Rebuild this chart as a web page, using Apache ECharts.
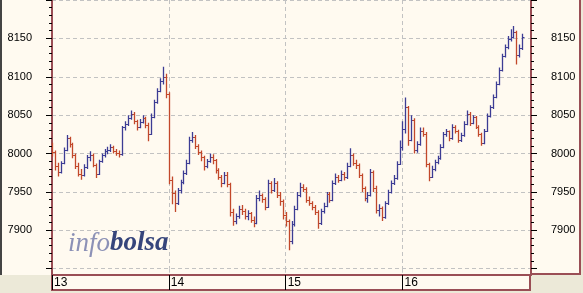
<!DOCTYPE html>
<html><head><meta charset="utf-8">
<script src="https://cdn.jsdelivr.net/npm/echarts@6/dist/echarts.min.js"></script>
<style>html,body{margin:0;padding:0;background:#ece9d8}#c{width:583px;height:293px}</style>
</head><body><div id="c"></div>
<script>
// ---- data: [open, high, low, close] per intraday bar ----
const dayLabels = ['13', '14', '15', '16'];
const barsPerDay = 40;
const slotCount = 165;
const yMin = 7850, yMax = 8200, yStep = 50;

const day13 = [
 [8008,8014,7996,8002],[8002,8004,7978,7984],[7984,7988,7970,7976],[7976,7990,7974,7988],
 [7988,8008,7986,8005],[8005,8024,8003,8020],[8020,8022,8008,8012],[8012,8014,7994,7998],
 [7998,8000,7980,7984],[7984,7988,7970,7974],[7974,7980,7966,7972],[7972,7986,7970,7982],
 [7982,7998,7980,7995],[7995,8003,7990,7998],[7998,8000,7982,7985],[7985,7987,7968,7974],
 [7974,7992,7972,7990],[7990,8000,7988,7998],[7998,8006,7995,8003],[8003,8009,7999,8005],
 [8005,8012,8002,8008],[8008,8010,8000,8003],[8003,8006,7997,8001],[8001,8004,7995,7999],
 [7999,8036,7997,8034],[8034,8042,8030,8038],[8038,8050,8036,8046],[8046,8056,8044,8052],
 [8052,8054,8038,8042],[8042,8044,8030,8035],[8035,8045,8033,8041],[8041,8050,8039,8046],
 [8046,8048,8033,8037],[8037,8040,8016,8026],[8026,8052,8024,8048],[8048,8070,8046,8067],
 [8067,8085,8065,8082],[8082,8098,8080,8095],[8095,8113,8090,8100],[8100,8104,8072,8078]
];
const day14 = [
 [8078,8080,7960,7966],[7966,7970,7934,7948],[7948,7952,7924,7936],[7936,7955,7933,7952],
 [7952,7966,7948,7963],[7963,7978,7960,7975],[7975,7992,7972,7988],[7988,8022,7986,8018],
 [8018,8028,8014,8022],[8022,8024,8006,8010],[8010,8012,7998,8002],[8002,8004,7990,7995],
 [7995,7997,7978,7984],[7984,7993,7981,7990],[7990,8000,7988,7996],[7996,7999,7986,7991],
 [7991,7993,7974,7978],[7978,7981,7966,7970],[7970,7972,7956,7962],[7962,7976,7960,7972],
 [7972,7976,7956,7960],[7960,7962,7918,7924],[7924,7928,7906,7912],[7912,7922,7908,7918],
 [7918,7932,7915,7928],[7928,7933,7920,7925],[7925,7928,7914,7919],[7919,7926,7913,7922],
 [7922,7924,7910,7914],[7914,7918,7904,7910],[7910,7946,7908,7942],[7942,7952,7938,7946],
 [7946,7948,7936,7941],[7941,7943,7926,7931],[7931,7966,7929,7961],[7961,7964,7948,7953],
 [7953,7968,7950,7962],[7962,7964,7942,7946],[7946,7950,7932,7938],[7938,7940,7914,7920]
];
const day15 = [
 [7920,7924,7905,7912],[7912,7914,7874,7886],[7886,7912,7882,7908],[7908,7932,7905,7928],
 [7928,7950,7926,7946],[7946,7962,7943,7957],[7957,7960,7950,7954],[7954,7956,7936,7940],
 [7940,7944,7932,7936],[7936,7938,7926,7930],[7930,7933,7920,7924],[7924,7926,7902,7910],
 [7910,7928,7907,7925],[7925,7936,7922,7932],[7932,7950,7930,7947],[7947,7950,7936,7940],
 [7940,7965,7938,7962],[7962,7974,7959,7970],[7970,7972,7962,7966],[7966,7978,7964,7973],
 [7973,7976,7965,7969],[7969,7988,7967,7984],[7984,8007,7982,7998],[7998,8000,7984,7988],
 [7988,7992,7980,7985],[7985,7987,7968,7972],[7972,7974,7950,7955],[7955,7957,7938,7942],
 [7942,7950,7936,7946],[7946,7980,7944,7976],[7976,7978,7950,7955],[7955,7958,7922,7926],
 [7926,7934,7918,7929],[7929,7931,7912,7917],[7917,7938,7915,7935],[7935,7953,7933,7950],
 [7950,7965,7948,7962],[7962,7972,7959,7968],[7968,7990,7966,7987],[7987,8017,7985,8008]
];
const day16 = [
 [8008,8042,8004,8032],[8032,8073,8026,8060],[8060,8062,8010,8018],[8018,8050,8016,8044],
 [8044,8046,8000,8005],[8005,8016,8001,8012],[8012,8034,8010,8030],[8030,8034,8022,8026],
 [8026,8028,7982,7986],[7986,7988,7964,7970],[7970,7984,7968,7980],[7980,7992,7977,7989],
 [7989,7997,7986,7994],[7994,8012,7992,8009],[8009,8028,8007,8025],[8025,8032,8022,8029],
 [8029,8030,8016,8020],[8020,8038,8018,8035],[8035,8037,8026,8029],[8029,8031,8014,8018],
 [8018,8027,8015,8024],[8024,8042,8022,8039],[8039,8056,8037,8052],[8052,8054,8036,8040],
 [8040,8050,8038,8047],[8047,8049,8032,8035],[8035,8037,8022,8025],[8025,8027,8010,8014],
 [8014,8032,8012,8030],[8030,8052,8028,8049],[8049,8063,8047,8060],[8060,8077,8058,8074],
 [8074,8094,8072,8091],[8091,8112,8089,8109],[8109,8130,8107,8127],[8127,8142,8125,8139],
 [8139,8153,8136,8149],[8149,8162,8146,8152],[8152,8166,8150,8158],[8158,8160,8116,8128],
 [8128,8142,8125,8138],[8138,8156,8135,8152]
];

// ---- build ----
const categories = [];
for (let i = 0; i < slotCount; i++) {
  const d = i / barsPerDay;
  categories.push(i % barsPerDay === 0 && d < dayLabels.length ? dayLabels[d] : '');
}
const bars = [].concat(day13, day14, day15, day16).map((b, i) => [i, b[0], b[1], b[2], b[3]]);
const isDayStart = (i) => i % barsPerDay === 0 && i < barsPerDay * dayLabels.length;

const UP = '#3c3c94', DOWN = '#c2482a';
const BROWN = '#9a4e55', CREAM = '#fffaf0', GRID = '#c2c2c2';
const FONT = "'Liberation Sans', Arial, sans-serif";

const chart = echarts.init(document.getElementById('c'), null, {renderer: 'canvas'});

const yAxisCommon = {
  type: 'value', gridIndex: 0, min: yMin, max: yMax, interval: yStep,
  axisLine: {show: true, lineStyle: {color: BROWN, width: 2}},
  axisTick: {show: true, length: 6, lineStyle: {color: '#000', width: 1}},
  minorTick: {show: true, splitNumber: 5, length: 3, lineStyle: {color: '#000', width: 1}},
  axisLabel: {margin: 20, fontSize: 11, color: '#000', fontFamily: FONT,
    showMinLabel: false, showMaxLabel: false, formatter: (v) => String(v)},
};

chart.setOption({
  backgroundColor: '#ece9d8',
  animation: false,
  graphic: [
    {type: 'rect', z: -10, shape: {x: 0, y: 0, width: 581, height: 275}, style: {fill: CREAM}},
    {type: 'rect', z: -9, shape: {x: 531, y: -3, width: 49, height: 277}, style: {fill: CREAM, stroke: BROWN, lineWidth: 2}},
    {type: 'rect', z: -9, shape: {x: 52, y: 275, width: 478, height: 15}, style: {fill: CREAM, stroke: BROWN, lineWidth: 2}},
    {type: 'line', z: -8, shape: {x1: 1, y1: 0, x2: 1, y2: 275}, style: {stroke: '#444', lineWidth: 2}},
    {type: 'text', z: 1, x: 68, y: 230, style: {
      text: '{a|info}{b|bolsa}',
      rich: {
        a: {fontSize: 27, lineHeight: 27, fontStyle: 'italic', fontFamily: "'Liberation Serif', 'DejaVu Serif', serif", fill: '#8c91b6'},
        b: {fontSize: 27, lineHeight: 27, fontStyle: 'italic', fontWeight: 'bold', fontFamily: "'Liberation Serif', 'DejaVu Serif', serif", fill: '#36457b'}
      },
      verticalAlign: 'top'
    }}
  ],
  grid: [
    {left: 52, right: 52, top: 0, height: 268.7, outerBoundsMode: 'none', containLabel: false},
    {left: 52, right: 52, top: 268.7, height: 6.3, outerBoundsMode: 'none', containLabel: false}
  ],
  xAxis: [
    {type: 'category', gridIndex: 0, data: categories, boundaryGap: false,
      axisLine: {show: false}, axisTick: {show: false}, axisLabel: {show: false},
      splitLine: {show: true, interval: (i) => isDayStart(i) && i > 0, lineStyle: {color: GRID, type: [4, 3]}}},
    {type: 'category', gridIndex: 1, data: categories, boundaryGap: false, position: 'bottom',
      axisLine: {show: true, onZero: false, lineStyle: {color: BROWN, width: 2}},
      axisTick: {show: true, interval: (i) => isDayStart(i), length: 15, lineStyle: {color: '#000', width: 1}},
      axisLabel: {interval: (i) => isDayStart(i), align: 'left', padding: [0, 0, 0, 2], margin: 2,
        fontSize: 12, color: '#000', fontFamily: FONT, hideOverlap: false},
      splitLine: {show: true, interval: (i) => isDayStart(i) && i > 0, lineStyle: {color: GRID, type: [4, 3]}}}
  ],
  yAxis: [
    Object.assign({}, yAxisCommon, {position: 'left',
      splitLine: {show: true, lineStyle: {color: GRID, type: [4, 3]}}}),
    Object.assign({}, yAxisCommon, {position: 'right', splitLine: {show: false}}),
    {type: 'value', gridIndex: 1, min: 0, max: 1, position: 'left',
      axisLine: {show: true, lineStyle: {color: BROWN, width: 2}}, axisTick: {show: false},
      axisLabel: {show: false}, splitLine: {show: false}},
    {type: 'value', gridIndex: 1, min: 0, max: 1, position: 'right',
      axisLine: {show: true, lineStyle: {color: BROWN, width: 2}}, axisTick: {show: false},
      axisLabel: {show: false}, splitLine: {show: false}}
  ],
  series: [{
    type: 'custom', xAxisIndex: 0, yAxisIndex: 0, clip: true,
    data: bars,
    encode: {x: 0, y: [1, 2, 3, 4]},
    renderItem: function (params, api) {
      const idx = api.value(0);
      const o = api.value(1), h = api.value(2), l = api.value(3), c = api.value(4);
      const pO = api.coord([idx, o]), pH = api.coord([idx, h]), pL = api.coord([idx, l]), pC = api.coord([idx, c]);
      const x = Math.round(pO[0]) + 0.5;
      const color = c >= o ? UP : DOWN;
      const yo = Math.round(pO[1]) + 0.5, yc = Math.round(pC[1]) + 0.5;
      return {type: 'group', children: [
        {type: 'line', shape: {x1: x, y1: pH[1], x2: x, y2: pL[1]}, style: {stroke: color, lineWidth: 1.3}},
        {type: 'line', shape: {x1: x - 2, y1: yo, x2: x, y2: yo}, style: {stroke: color, lineWidth: 1}},
        {type: 'line', shape: {x1: x, y1: yc, x2: x + 2, y2: yc}, style: {stroke: color, lineWidth: 1}}
      ]};
    }
  }]
});
</script></body></html>
